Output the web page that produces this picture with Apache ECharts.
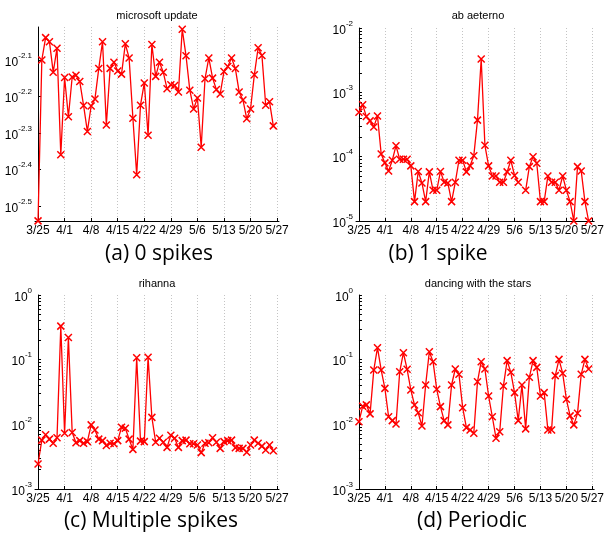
<!DOCTYPE html>
<html>
<head>
<meta charset="utf-8">
<script src="https://cdn.jsdelivr.net/npm/echarts@6/dist/echarts.min.js"></script>
<style>
  html, body { margin: 0; padding: 0; background: #fff; }
  #main { width: 607px; height: 544px; }
</style>
</head>
<body>
<div id="main"></div>
<script>
// date axis: days counted from 3/25
var tickDays = [0, 7, 14, 21, 28, 35, 42, 49, 56, 63];
var tickLabels = ['3/25', '4/1', '4/8', '4/15', '4/22', '4/29', '5/6', '5/13', '5/20', '5/27'];

var titles = ['microsoft update', 'ab aeterno', 'rihanna', 'dancing with the stars'];
var captions = ['(a) 0 spikes', '(b) 1 spike', '(c) Multiple spikes', '(d) Periodic'];

// daily values, 3/25 .. 5/26 (null = no data)
var microsoftUpdate = [
  2.88e-3, 7.94e-3, 9.14e-3, 8.91e-3, 7.35e-3, 8.55e-3, 4.37e-3, 7.11e-3, 5.55e-3, 7.13e-3,
  7.21e-3, 6.93e-3, 5.96e-3, 5.06e-3, 5.94e-3, 6.21e-3, 7.52e-3, 8.91e-3, 5.27e-3, 7.53e-3,
  7.83e-3, 7.41e-3, 7.26e-3, 8.79e-3, 8.04e-3, 5.50e-3, 3.85e-3, 5.97e-3, 6.87e-3, 4.94e-3,
  8.75e-3, 7.16e-3, 7.83e-3, 7.35e-3, 6.62e-3, 6.79e-3, 6.76e-3, 6.49e-3, 9.64e-3, 8.15e-3,
  6.56e-3, 5.83e-3, 6.25e-3, 4.58e-3, 7.05e-3, 8.04e-3, 7.08e-3, 6.59e-3, 6.41e-3, 7.38e-3,
  7.62e-3, 8.04e-3, 7.52e-3, 6.49e-3, 6.17e-3, 5.48e-3, 5.83e-3, 7.23e-3, 8.57e-3, 8.17e-3,
  5.97e-3, 6.10e-3, 5.24e-3
];
var abAeterno = [
  4.9e-4, 6.4e-4, 4.2e-4, 3.6e-4, 2.9e-4, 4.3e-4, 1.1e-4, 8.0e-5, 6.0e-5, 8.8e-5,
  1.48e-4, 9.1e-5, 9.1e-5, 9.1e-5, 7.2e-5, 2.0e-5, 5.9e-5, 3.9e-5, 2.0e-5, 5.8e-5,
  3.0e-5, 3.0e-5, 5.9e-5, 4.0e-5, 3.9e-5, 2.0e-5, 4.0e-5, 8.8e-5, 8.8e-5, 5.8e-5,
  7.2e-5, 1.03e-4, 3.7e-4, 3.3e-3, 1.5e-4, 7.2e-5, 5.0e-5, 5.0e-5, 4.0e-5, 4.0e-5,
  5.8e-5, 8.8e-5, 5.1e-5, 4.0e-5, null, 3.0e-5, 7.0e-5, 1.0e-4, 7.9e-5, 2.0e-5,
  2.0e-5, 5.0e-5, 4.0e-5, 4.0e-5, 3.0e-5, 5.0e-5, 3.0e-5, 2.0e-5, 1.0e-5, 7.0e-5,
  6.0e-5, 2.0e-5, 1.0e-5
];
var rihanna = [
  2.44e-3, 5.7e-3, 6.9e-3, 5.9e-3, 5.1e-3, 6.2e-3, 0.33, 7.3e-3, 0.22, 7.5e-3,
  5.2e-3, 5.6e-3, 5.1e-3, 5.4e-3, 9.8e-3, 8.2e-3, 5.9e-3, 5.6e-3, 4.7e-3, 5.1e-3,
  5.0e-3, 5.6e-3, 9.0e-3, 8.7e-3, 5.9e-3, 4.1e-3, 0.107, 5.5e-3, 5.4e-3, 0.109,
  0.0128, 5.3e-3, 6.1e-3, 5.3e-3, 4.4e-3, 6.8e-3, 6.1e-3, 4.4e-3, 5.6e-3, 5.7e-3,
  5.0e-3, 5.0e-3, 4.8e-3, 3.65e-3, 5.1e-3, 5.2e-3, 6.2e-3, 5.3e-3, 4.25e-3, 5.4e-3,
  5.6e-3, 5.7e-3, 4.35e-3, 4.25e-3, 4.25e-3, 3.7e-3, 4.8e-3, 5.7e-3, 5.1e-3, 4.6e-3,
  4.0e-3, 4.8e-3, 3.9e-3
];
var dancingStars = [
  0.011, 0.019, 0.020, 0.0145, 0.069, 0.153, 0.069, 0.036, 0.0131, 0.0114,
  0.0101, 0.065, 0.128, 0.071, 0.034, 0.0199, 0.0151, 0.0094, 0.0406, 0.133,
  0.093, 0.0348, 0.0188, 0.0114, 0.0098, 0.0406, 0.0717, 0.0593, 0.0181, 0.0089,
  0.0082, 0.0073, 0.0457, 0.093, 0.0717, 0.0274, 0.0131, 0.0061, 0.0077, 0.0392,
  0.0966, 0.0637, 0.0309, 0.0114, 0.0406, 0.0085, 0.0533, 0.0966, 0.076, 0.0274,
  0.0309, 0.0082, 0.0082, 0.0566, 0.101, 0.0615, 0.0244, 0.0135, 0.0098, 0.0148,
  0.0593, 0.101, 0.0717
];

// y axes are log10 of the value; labels are the exponents
var expTicksA = [-2.5, -2.4, -2.3, -2.2, -2.1];
var expTicksB = [-5, -4, -3, -2];
var expTicksCD = [-3, -2, -1, 0];

var FONT = '"Liberation Sans", Arial, sans-serif';

// minor log ticks 2..9 inside each decade
function logTicks(lo, hi) {
    var out = [];
    for (var n = lo; n < hi; n++) {
        for (var k = 1; k < 10; k++) out.push(n + Math.log10(k));
    }
    out.push(hi);
    return out;
}

function toSeries(values) {
    return values.map(function (v, i) {
        return v == null ? [i, '-'] : [i, Math.log10(v)];
    });
}

var panels = [
    {vals: microsoftUpdate, min: -2.541, max: -2.01, majors: expTicksA, ticks: expTicksA, dec: 1,
     box: {left: 35, top: 27, width: 244, height: 194}},
    {vals: abAeterno, min: -5, max: -2, majors: expTicksB, ticks: logTicks(-5, -2), dec: 0,
     box: {left: 356, top: 28, width: 244, height: 193}},
    {vals: rihanna, min: -3, max: 0, majors: expTicksCD, ticks: logTicks(-3, 0), dec: 0,
     box: {left: 35, top: 295, width: 244, height: 194}},
    {vals: dancingStars, min: -3, max: 0, majors: expTicksCD, ticks: logTicks(-3, 0), dec: 0,
     box: {left: 356, top: 295, width: 244, height: 194}}
];

var titlePos = [[157, 16], [478, 16], [157, 284], [478, 284]];
var captionPos = [[159, 254], [438, 254], [151, 521], [472, 521]];

var grids = [], xAxes = [], yAxes = [], series = [], graphics = [];

panels.forEach(function (p, i) {
    grids.push(p.box);
    xAxes.push({
        gridIndex: i, type: 'value', min: -0.8, max: 63.5,
        axisLine: {show: true, onZero: false, lineStyle: {color: '#000', width: 1}},
        axisTick: {show: true, inside: true, length: 3, customValues: tickDays, lineStyle: {color: '#000'}},
        axisLabel: {
            customValues: tickDays, margin: 4, color: '#000', fontSize: 12, fontFamily: FONT,
            formatter: function (v) { return tickLabels[tickDays.indexOf(Math.round(v))]; }
        },
        splitLine: {show: true, lineStyle: {color: '#c4c4c4', type: [1, 2], width: 1}}
    });
    yAxes.push({
        gridIndex: i, type: 'value', min: p.min, max: p.max,
        axisLine: {show: true, lineStyle: {color: '#000', width: 1}},
        axisTick: {show: true, inside: true, length: 3, customValues: p.ticks, lineStyle: {color: '#000'}},
        axisLabel: {
            customValues: p.majors, margin: 3, color: '#000',
            formatter: function (v) {
                var e = p.dec ? v.toFixed(1) : String(Math.round(v));
                return '{b|10}{s|' + e + '}';
            },
            rich: {
                b: {fontSize: 12, fontFamily: FONT, color: '#000', lineHeight: 17, verticalAlign: 'bottom'},
                s: {fontSize: 8, fontFamily: FONT, color: '#000', lineHeight: 8, verticalAlign: 'top'}
            }
        },
        splitLine: {show: false}
    });
    series.push({
        type: 'line', xAxisIndex: i, yAxisIndex: i,
        data: toSeries(p.vals),
        connectNulls: false,
        symbol: 'path://M0,0L10,10M10,0L0,10',
        symbolSize: 7,
        showAllSymbol: true,
        lineStyle: {color: '#ff0000', width: 1.3},
        itemStyle: {color: '#ff0000', borderColor: '#ff0000', borderWidth: 1.5},
        animation: false
    });
    graphics.push({
        type: 'text', x: titlePos[i][0], y: titlePos[i][1],
        style: {text: titles[i], fill: '#000', font: '11px ' + FONT, align: 'center', verticalAlign: 'middle'}
    });
    graphics.push({
        type: 'text', x: captionPos[i][0], y: captionPos[i][1],
        style: {text: captions[i], fill: '#000', font: '21px "Open Sans", sans-serif', align: 'center', verticalAlign: 'middle'}
    });
});

var myChart = echarts.init(document.getElementById('main'));
myChart.setOption({
    animation: false,
    backgroundColor: '#fff',
    grid: grids,
    xAxis: xAxes,
    yAxis: yAxes,
    series: series,
    graphic: graphics
});
</script>
</body>
</html>
